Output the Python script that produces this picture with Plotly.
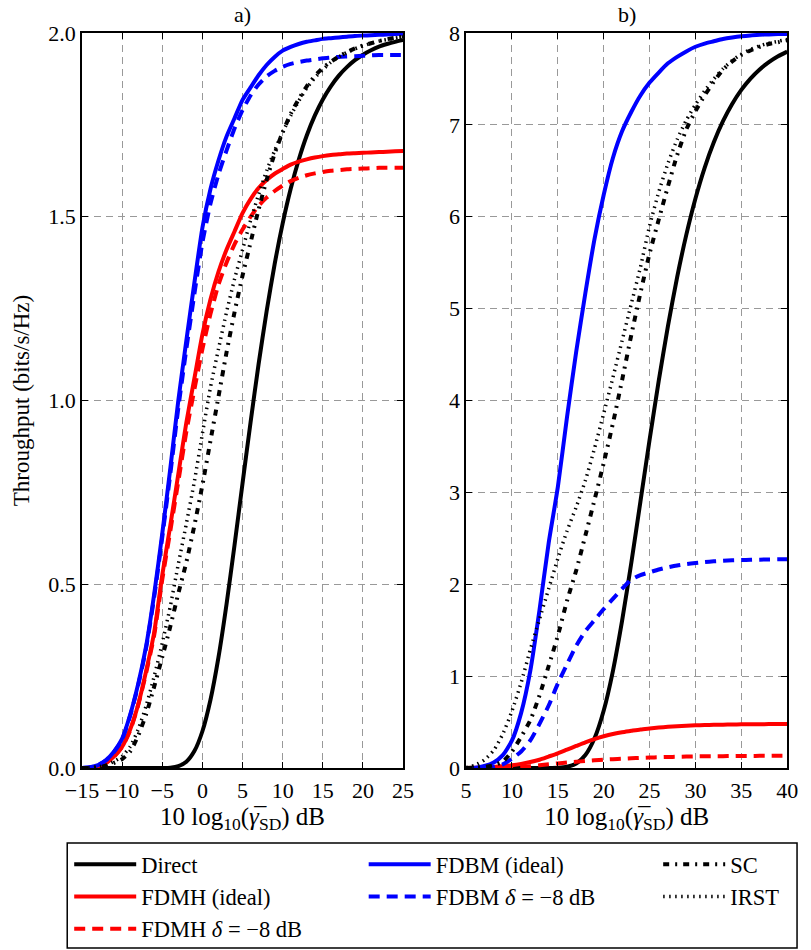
import plotly.graph_objects as go

# ---------------- panel a) : 2 bits/s/Hz ----------------
snr_a = list(range(-15, 26))  # dB

direct_a = [0, 0, 0, 0, 0, 0, 0, 0, 0, 0,
            0.0002, 0.001, 0.005, 0.017, 0.046, 0.100, 0.185, 0.301, 0.445, 0.606,
            0.775, 0.941, 1.099, 1.243, 1.371, 1.482, 1.576, 1.655, 1.721, 1.775,
            1.819, 1.855, 1.884, 1.907, 1.926, 1.941, 1.953, 1.963, 1.970, 1.976, 1.981]
fdmh_ideal_a = [0.0, 0.001, 0.005, 0.014, 0.032, 0.058, 0.105, 0.173, 0.265, 0.37,
                0.525, 0.66, 0.80, 0.94, 1.06, 1.18, 1.275, 1.35, 1.41, 1.46,
                1.51, 1.548, 1.578, 1.60, 1.617, 1.63, 1.642, 1.65, 1.656, 1.661,
                1.665, 1.668, 1.670, 1.672, 1.673, 1.674, 1.675, 1.676, 1.677, 1.678, 1.679]
fdmh_d8_a = [0.0, 0.001, 0.005, 0.014, 0.031, 0.057, 0.102, 0.171, 0.26, 0.362,
             0.513, 0.645, 0.78, 0.915, 1.03, 1.14, 1.235, 1.315, 1.375, 1.425,
             1.465, 1.50, 1.53, 1.552, 1.57, 1.585, 1.597, 1.606, 1.613, 1.618,
             1.622, 1.625, 1.627, 1.629, 1.630, 1.631, 1.632, 1.633, 1.633, 1.633, 1.633]
fdbm_ideal_a = [0.0, 0.002, 0.008, 0.022, 0.045, 0.08, 0.145, 0.229, 0.333, 0.474,
                0.638, 0.815, 1.0, 1.163, 1.32, 1.47, 1.575, 1.653, 1.718, 1.768,
                1.818, 1.852, 1.885, 1.913, 1.935, 1.952, 1.962, 1.970, 1.976, 1.980,
                1.984, 1.986, 1.988, 1.990, 1.992, 1.993, 1.994, 1.995, 1.996, 1.997, 1.998]
fdbm_d8_a = [0.0, 0.002, 0.008, 0.021, 0.044, 0.078, 0.142, 0.225, 0.328, 0.466,
             0.628, 0.80, 0.98, 1.14, 1.29, 1.43, 1.535, 1.615, 1.68, 1.74,
             1.79, 1.83, 1.86, 1.882, 1.897, 1.908, 1.916, 1.921, 1.925, 1.928,
             1.931, 1.933, 1.935, 1.936, 1.937, 1.938, 1.939, 1.94, 1.94, 1.94, 1.94]
sc_a = [0.0, 0.0005, 0.002, 0.006, 0.014, 0.024, 0.045, 0.088, 0.147, 0.222,
        0.302, 0.385, 0.475, 0.56, 0.66, 0.77, 0.89, 1.01, 1.13, 1.24,
        1.34, 1.43, 1.52, 1.60, 1.672, 1.73, 1.78, 1.82, 1.855, 1.883,
        1.905, 1.922, 1.936, 1.948, 1.958, 1.966, 1.972, 1.978, 1.983, 1.987, 1.99]
irst_a = [0.0, 0.001, 0.003, 0.008, 0.018, 0.032, 0.058, 0.105, 0.17, 0.25,
          0.34, 0.44, 0.555, 0.665, 0.78, 0.91, 1.035, 1.14, 1.24, 1.33,
          1.41, 1.49, 1.56, 1.625, 1.68, 1.73, 1.775, 1.815, 1.85, 1.878,
          1.90, 1.92, 1.935, 1.947, 1.957, 1.965, 1.972, 1.978, 1.982, 1.986, 1.99]

# ---------------- panel b) : 8 bits/s/Hz ----------------
snr_b = list(range(5, 41))  # dB

direct_b = [0, 0, 0, 0, 0, 0, 0, 0, 0,
            0.0003, 0.0025, 0.013, 0.049, 0.141, 0.323, 0.625, 1.055, 1.601, 2.229,
            2.899, 3.572, 4.216, 4.810, 5.341, 5.803, 6.199, 6.533, 6.811, 7.040,
            7.228, 7.381, 7.504, 7.603, 7.683, 7.747, 7.798]
fdmh_ideal_b = [0.0, 0.002, 0.005, 0.012, 0.02, 0.03, 0.045, 0.065, 0.09, 0.125,
                0.16, 0.2, 0.24, 0.28, 0.315, 0.345, 0.37, 0.39, 0.405, 0.42,
                0.43, 0.44, 0.448, 0.455, 0.46, 0.465, 0.468, 0.47, 0.472, 0.474,
                0.475, 0.476, 0.477, 0.478, 0.478, 0.478]
fdmh_d8_b = [0.0, 0.0, 0.0, 0.001, 0.003, 0.006, 0.012, 0.02, 0.03, 0.04,
             0.05, 0.06, 0.068, 0.076, 0.083, 0.09, 0.096, 0.101, 0.106, 0.11,
             0.114, 0.117, 0.12, 0.122, 0.124, 0.126, 0.127, 0.128, 0.129, 0.13,
             0.131, 0.131, 0.132, 0.132, 0.133, 0.133]
fdbm_ideal_b = [0.0, 0.004, 0.022, 0.06, 0.14, 0.3, 0.6, 1.06, 1.72, 2.45,
                3.06, 3.82, 4.53, 5.17, 5.76, 6.24, 6.64, 6.93, 7.14, 7.32,
                7.46, 7.57, 7.67, 7.74, 7.80, 7.85, 7.885, 7.91, 7.935, 7.952,
                7.965, 7.974, 7.98, 7.985, 7.988, 7.99]
fdbm_d8_b = [0.0, 0.0, 0.003, 0.012, 0.04, 0.10, 0.18, 0.30, 0.48, 0.68,
             0.92, 1.13, 1.33, 1.49, 1.61, 1.73, 1.84, 1.95, 2.05, 2.10,
             2.13, 2.16, 2.185, 2.205, 2.22, 2.232, 2.242, 2.25, 2.255, 2.26,
             2.263, 2.266, 2.268, 2.27, 2.271, 2.272]
sc_b = [0.0, 0.003, 0.01, 0.03, 0.07, 0.18, 0.34, 0.52, 0.79, 1.11,
        1.44, 1.82, 2.15, 2.53, 2.92, 3.32, 3.75, 4.22, 4.71, 5.17,
        5.6, 5.97, 6.33, 6.67, 6.95, 7.15, 7.32, 7.47, 7.6, 7.69,
        7.76, 7.81, 7.85, 7.88, 7.90, 7.92]
irst_b = [0.005, 0.03, 0.09, 0.19, 0.37, 0.62, 0.93, 1.29, 1.62, 1.95,
          2.28, 2.58, 2.84, 3.13, 3.48, 3.86, 4.25, 4.65, 5.05, 5.45,
          5.9, 6.27, 6.58, 6.84, 7.05, 7.22, 7.37, 7.5, 7.61, 7.7,
          7.77, 7.82, 7.86, 7.89, 7.91, 7.93]

# ---------------- series styling ----------------
names = ["Direct", "FDMH (ideal)", "FDMH <i>δ</i> = −8 dB",
         "FDBM (ideal)", "FDBM <i>δ</i> = −8 dB", "SC", "IRST"]
colors = ["black", "red", "red", "blue", "blue", "black", "black"]
dashes = ["solid", "solid", "11px,7px", "solid", "11px,7px",
          "6px,6px,2px,6px", "1.5px,4.5px"]
widths = [4, 4, 4, 4, 4, 4, 3.5]
legend_ids = ["legend", "legend", "legend", "legend2", "legend2", "legend3", "legend3"]

series_a = [direct_a, fdmh_ideal_a, fdmh_d8_a, fdbm_ideal_a, fdbm_d8_a, sc_a, irst_a]
series_b = [direct_b, fdmh_ideal_b, fdmh_d8_b, fdbm_ideal_b, fdbm_d8_b, sc_b, irst_b]

FONT = "Liberation Serif"

fig = go.Figure()
for i, name in enumerate(names):
    line = dict(color=colors[i], width=widths[i], dash=dashes[i],
                shape="spline", smoothing=0.6)
    fig.add_trace(go.Scatter(x=snr_a, y=series_a[i], mode="lines", name=name,
                             line=line, xaxis="x", yaxis="y",
                             legend=legend_ids[i], showlegend=True))
    fig.add_trace(go.Scatter(x=snr_b, y=series_b[i], mode="lines", name=name,
                             line=line, xaxis="x2", yaxis="y2",
                             legend=legend_ids[i], showlegend=False))

# zero right margin: the right panel's domain stops short of the edge instead
L, R, T, B = 82, 0, 33, 182
W, H = 811, 950
pw = W - L - R
ph = H - T - B


def px_x(px):
    return (px - L) / pw


def px_y(py):
    return (H - B - py) / ph


left_end = px_x(408)
right_start = px_x(472)
right_end = px_x(798)

axis_common = dict(
    showline=True, linecolor="black", linewidth=1.5, mirror="ticks",
    ticks="inside", ticklen=6, tickwidth=1.2, tickcolor="black",
    showgrid=True, gridcolor="#999999", gridwidth=1, griddash="7px,5px",
    zeroline=False, tickfont=dict(family=FONT, size=22, color="black"),
)

xtitle = "10 log<sub>10</sub>(<i>γ̅</i><sub>SD</sub>) dB"


def legend_box(px_left):
    return dict(x=px_x(px_left), y=px_y(843), xanchor="left", yanchor="top",
                orientation="v", itemwidth=62, borderwidth=0,
                bgcolor="rgba(0,0,0,0)",
                font=dict(family=FONT, size=22.5, color="black"))


fig.update_layout(
    width=W, height=H,
    margin=dict(l=L, r=R, t=T, b=B),
    paper_bgcolor="white", plot_bgcolor="white",
    font=dict(family=FONT, size=22, color="black"),
    xaxis=dict(axis_common, domain=[0, left_end], range=[-15, 25], dtick=5,
               tick0=-15, ticklabelstandoff=2, anchor="y",
               title=dict(text=xtitle, font=dict(size=25), standoff=2)),
    yaxis=dict(axis_common, domain=[0, 1], range=[0, 2.0], dtick=0.5,
               tickformat=".1f", ticklabelstandoff=0, anchor="x",
               title=dict(text="Throughput (bits/s/Hz)", font=dict(size=23),
                          standoff=12)),
    xaxis2=dict(axis_common, domain=[right_start, right_end], range=[5, 40], dtick=5,
                tick0=5, ticklabelstandoff=2, anchor="y2",
                title=dict(text=xtitle, font=dict(size=25), standoff=2)),
    yaxis2=dict(axis_common, domain=[0, 1], range=[0, 8], dtick=1,
                ticklabelstandoff=0, anchor="x2"),
    legend=legend_box(69),
    legend2=legend_box(368),
    legend3=legend_box(667),
    shapes=[dict(type="rect", xref="paper", yref="paper",
                 x0=px_x(67), x1=px_x(808), y0=px_y(948), y1=px_y(843),
                 line=dict(color="black", width=1.5), fillcolor="rgba(0,0,0,0)")],
    annotations=[
        dict(text="a)", x=left_end / 2, y=px_y(15), xref="paper", yref="paper",
             showarrow=False, xanchor="center", yanchor="middle",
             font=dict(family=FONT, size=22)),
        dict(text="b)", x=(right_start + right_end) / 2, y=px_y(15),
             xref="paper", yref="paper",
             showarrow=False, xanchor="center", yanchor="middle",
             font=dict(family=FONT, size=22)),
    ],
)

fig.write_html("out.html")
